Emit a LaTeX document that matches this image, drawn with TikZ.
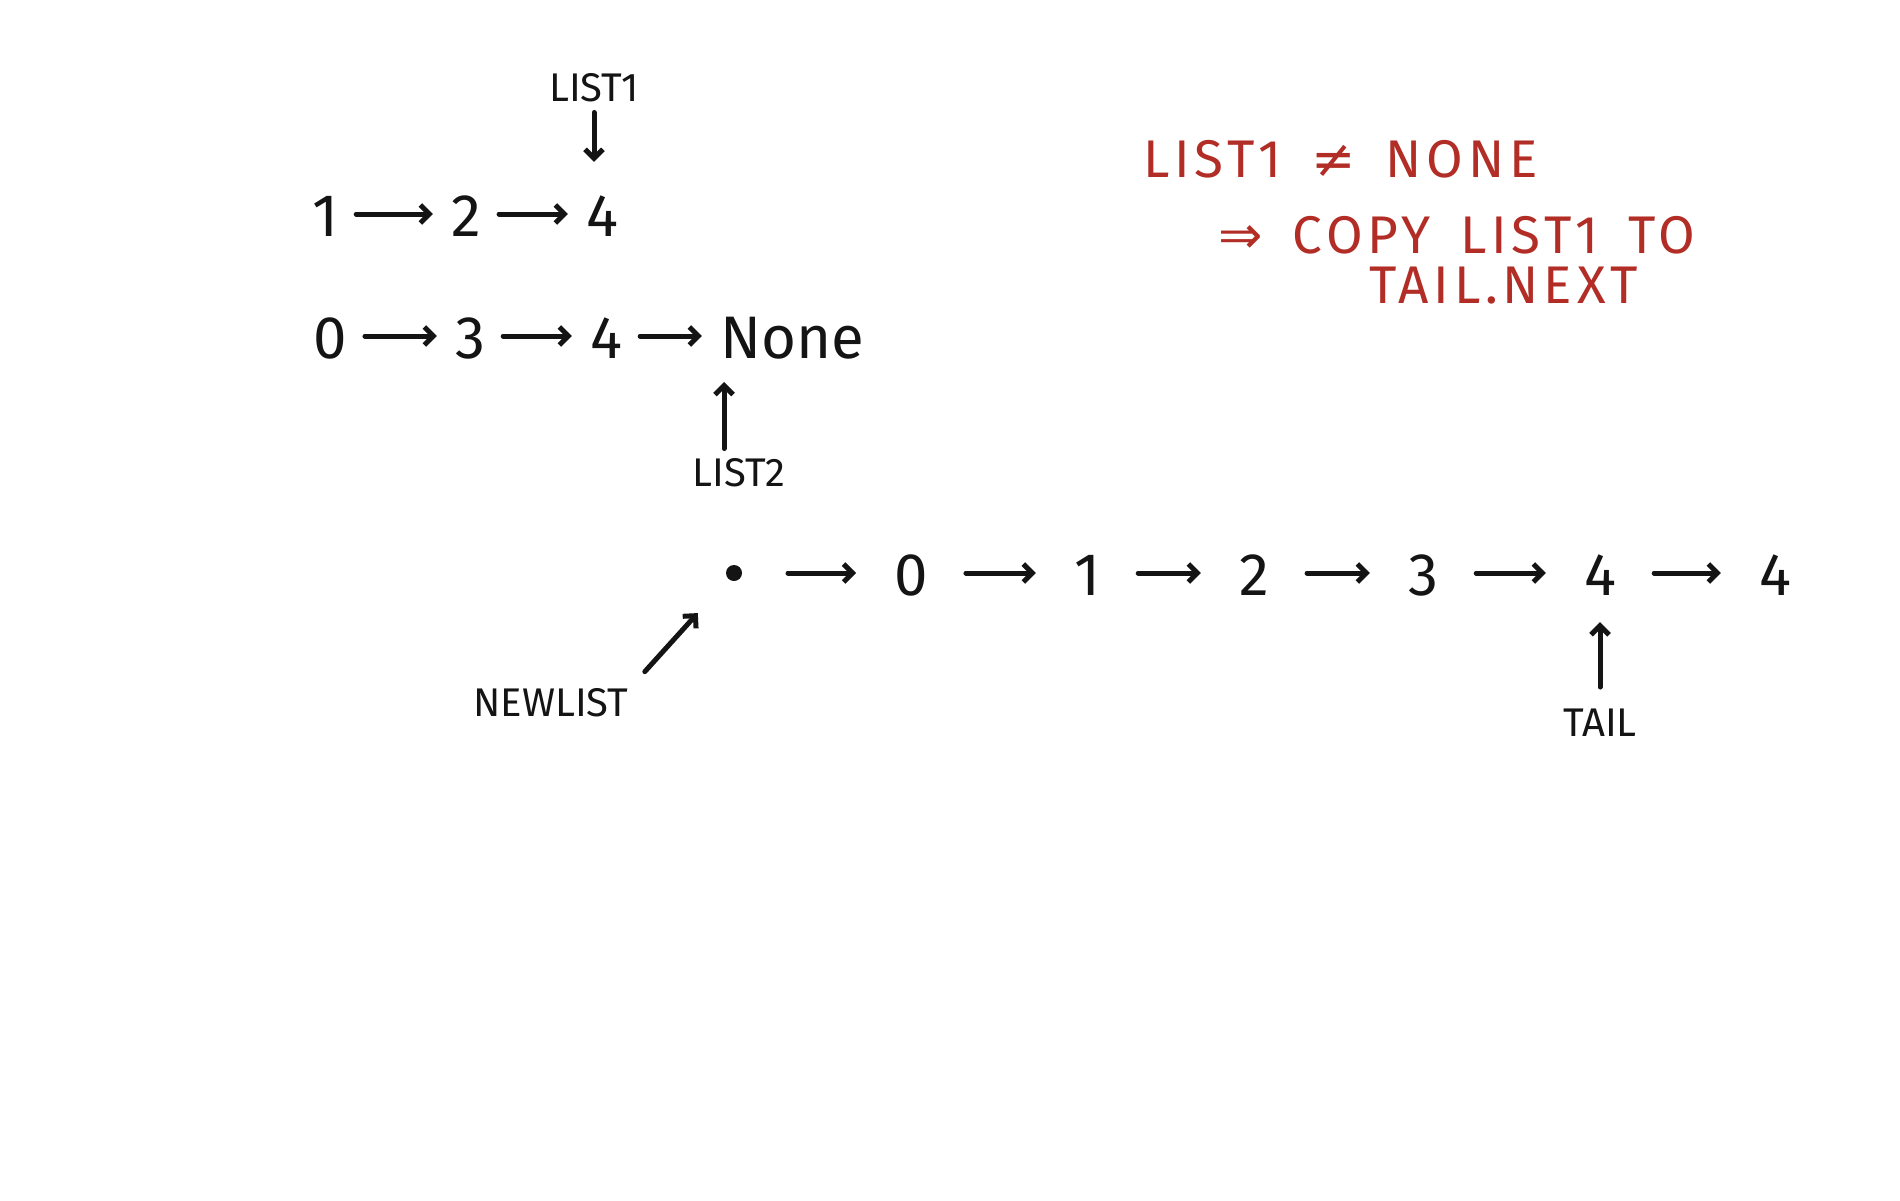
\documentclass[tikz,border=0pt]{standalone}
\usepackage{fontspec}
\setmainfont{Fira Sans}
\newfontfamily\notefont[LetterSpace=9,WordSpace=1.6]{Fira Sans}
\newfontfamily\symfont{DejaVu Sans}
\usetikzlibrary{arrows.meta}
\definecolor{ink}{RGB}{20,20,20}
\definecolor{redink}{RGB}{178,45,38}
\begin{document}
\begin{tikzpicture}[x=1pt,y=-1pt,
  val/.style={font=\fontsize{60}{60}\selectfont, text height=44pt, text depth=0pt, inner xsep=18pt, inner ysep=0pt, text=ink},
  bval/.style={val, inner xsep=38pt},
  lbl/.style={font=\fontsize{40}{40}\selectfont, inner sep=8pt, text=ink},
  note/.style={font=\notefont\fontsize{53}{53}\selectfont, text=redink, anchor=west, inner sep=0pt, text height=38pt, text depth=0pt},
  arr/.style={draw=ink, line width=5pt, line cap=round, line join=round, -{Straight Barb[length=9pt,width=18pt]}},
  dotnode/.style={circle, fill=ink, minimum size=16pt, inner sep=0pt, outer sep=46pt}]
\useasboundingbox[fill=white] (0,0) rectangle (1900,1200);

% list1
\node[lbl] (l1) at (594,88) {LIST1};
\node[val] (r1a) at (325,214) {1};
\node[val] (r1b) at (466,214) {2};
\node[val] (r1c) at (602,214) {4};
\draw[arr] (r1a) -- (r1b);
\draw[arr] (r1b) -- (r1c);
\draw[arr, shorten <=2pt, shorten >=30pt] (l1) -- (l1 |- r1c.north);

% list2
\node[val] (r2a) at (330,336) {0};
\node[val] (r2b) at (470,336) {3};
\node[val] (r2c) at (606,336) {4};
\node[val] (r2d) at (792,336) {None};
\draw[arr] (r2a) -- (r2b);
\draw[arr] (r2b) -- (r2c);
\draw[arr] (r2c) -- (r2d);
\node[lbl] (l2) at (739,473) {LIST2};
\coordinate (nonetip) at (724,382);
\draw[arr, shorten <=2pt] (l2.north -| nonetip) -- (nonetip);

% note
\node[note] (n1) at (1143,158) {LIST1 {\symfont ≠} NONE};
\node[note] (n2) at (1218,234) {{\symfont ⇒} COPY LIST1 TO};
\node[note] (n3) at (1369,284) {TAIL.NEXT};

% new list
\node[dotnode] (d) at (734,573) {};
\node[bval] (b0) at (911,573) {0};
\node[bval] (b1) at (1087,573) {1};
\node[bval] (b2) at (1254,573) {2};
\node[bval] (b3) at (1423,573) {3};
\node[bval] (b4) at (1600,573) {4};
\node[bval] (b5) at (1775,573) {4};
\draw[arr] (d) -- (b0);
\draw[arr] (b0) -- (b1);
\draw[arr] (b1) -- (b2);
\draw[arr] (b2) -- (b3);
\draw[arr] (b3) -- (b4);
\draw[arr] (b4) -- (b5);

\node[lbl] (nl) at (551,703) {NEWLIST};
\draw[arr, shorten <=12pt] (nl.north east) -- (d);
\node[lbl] (tl) at (1600,723) {TAIL};
\draw[arr, shorten <=14pt, shorten >=27pt] (tl) -- (tl |- b4.south);
\end{tikzpicture}
\end{document}
